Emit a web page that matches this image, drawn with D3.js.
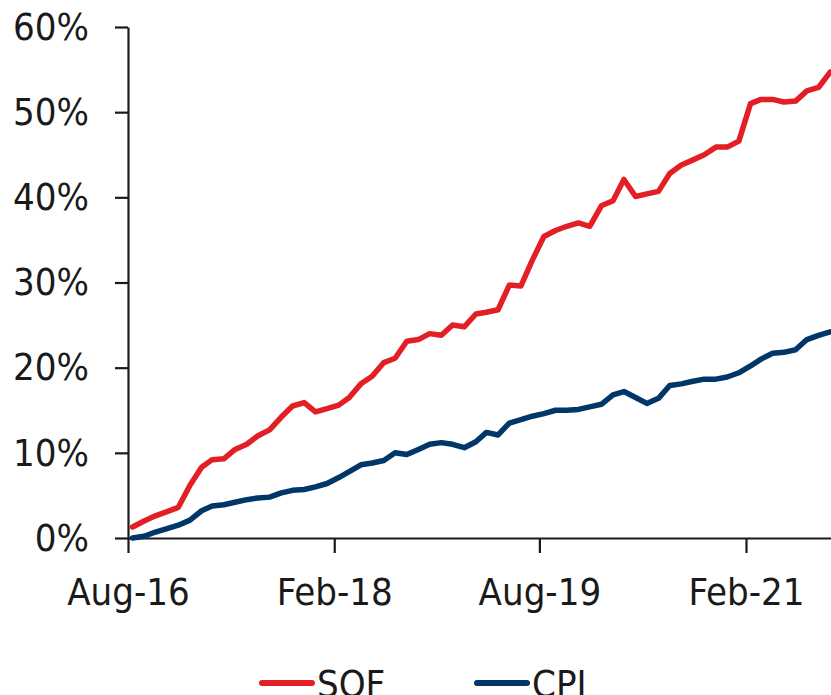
<!DOCTYPE html>
<html>
<head>
<meta charset="UTF-8">
<script src="https://d3js.org/d3.v7.min.js"></script>
<style>
  body { margin: 0; background: #fff; }
  svg { display: block; }
  text { font-family: "Liberation Sans Narrow", "Arial Narrow", "DejaVu Sans Condensed", sans-serif; fill: #1a1a1a; }
  .axis path, .axis line { stroke: #1a1a1a; stroke-width: 2.2; }
</style>
</head>
<body>
<svg id="chart" width="831" height="695"></svg>
<script>
// monthly observations, Aug-16 .. Sep-21 (cumulative % change)
var months = ["2016-08","2016-09","2016-10","2016-11","2016-12",
  "2017-01","2017-02","2017-03","2017-04","2017-05","2017-06","2017-07","2017-08","2017-09","2017-10","2017-11","2017-12",
  "2018-01","2018-02","2018-03","2018-04","2018-05","2018-06","2018-07","2018-08","2018-09","2018-10","2018-11","2018-12",
  "2019-01","2019-02","2019-03","2019-04","2019-05","2019-06","2019-07","2019-08","2019-09","2019-10","2019-11","2019-12",
  "2020-01","2020-02","2020-03","2020-04","2020-05","2020-06","2020-07","2020-08","2020-09","2020-10","2020-11","2020-12",
  "2021-01","2021-02","2021-03","2021-04","2021-05","2021-06","2021-07","2021-08","2021-09"];

var sof = [1.3, 2.0, 2.6, 3.1, 3.6, 6.2, 8.3, 9.2, 9.3, 10.4, 11.0, 12.0, 12.7, 14.2, 15.5, 15.9,
  14.8, 15.2, 15.6, 16.5, 18.1, 19.0, 20.6, 21.1, 23.1, 23.3, 24.0, 23.8, 25.0, 24.8, 26.3, 26.5,
  26.8, 29.7, 29.6, 32.6, 35.4, 36.1, 36.6, 37.0, 36.6, 39.0, 39.6, 42.1, 40.1, 40.4, 40.7, 42.8,
  43.8, 44.4, 45.0, 45.9, 45.9, 46.6, 51.0, 51.5, 51.5, 51.2, 51.3, 52.5, 52.9, 54.7];

var cpi = [0.0, 0.2, 0.7, 1.1, 1.5, 2.1, 3.2, 3.75, 3.9, 4.2, 4.5, 4.7, 4.8, 5.3, 5.6, 5.7,
  6.0, 6.4, 7.1, 7.8, 8.6, 8.8, 9.1, 10.0, 9.8, 10.4, 11.0, 11.2, 11.0, 10.6, 11.3, 12.4,
  12.1, 13.5, 13.9, 14.3, 14.6, 15.0, 15.0, 15.1, 15.4, 15.7, 16.8, 17.2, 16.5, 15.8, 16.4, 17.9,
  18.1, 18.4, 18.65, 18.65, 18.9, 19.4, 20.2, 21.0, 21.7, 21.8, 22.1, 23.3, 23.8, 24.2];

var xTicks = ["2016-08", "2018-02", "2019-08", "2021-02"];
var yTicks = [0, 10, 20, 30, 40, 50, 60];

var seriesNames = ["SOF", "CPI"];
var colors = ["#e31e25", "#003768"];

var svg = d3.select("#chart");
var width = 831, height = 695;
var margin = { left: 128, top: 27, bottom: 538 };

var parseMonth = d3.timeParse("%Y-%m");
// observations sit mid-month
var obsDate = function(m) { return d3.timeDay.offset(parseMonth(m), 12); };

var x = d3.scaleTime()
  .domain([parseMonth(xTicks[0]), parseMonth(xTicks[3])])
  .range([margin.left, 746]);
x.domain([x.domain()[0], x.invert(width)]).range([margin.left, width]);

var y = d3.scaleLinear().domain([0, 60]).range([margin.bottom, margin.top]);

var xAxis = d3.axisBottom(x)
  .tickValues(xTicks.map(parseMonth))
  .tickFormat(d3.timeFormat("%b-%y"))
  .tickSizeInner(15).tickSizeOuter(0).tickPadding(25);

var gx = svg.append("g").attr("class", "axis")
  .attr("transform", "translate(0," + margin.bottom + ")")
  .call(xAxis);
gx.selectAll("text").style("font-size", "38px");

var yAxis = d3.axisLeft(y)
  .tickValues(yTicks)
  .tickFormat(function(d) { return d + "%"; })
  .tickSizeInner(13).tickSizeOuter(0).tickPadding(26);

var gy = svg.append("g").attr("class", "axis")
  .attr("transform", "translate(" + margin.left + ",0)")
  .call(yAxis);
gy.selectAll("text").style("font-size", "38px");

var line = d3.line()
  .x(function(d, i) { return x(obsDate(months[i])); })
  .y(function(d) { return y(d); });

[sof, cpi].forEach(function(s, k) {
  svg.append("path")
    .datum(s)
    .attr("d", line)
    .attr("fill", "none")
    .attr("stroke", colors[k])
    .attr("stroke-width", 5.5)
    .attr("stroke-linejoin", "round")
    .attr("stroke-linecap", "round");
});

// legend (cut by the bottom edge, as in the source image)
var legX = [262, 477];
var leg = svg.selectAll(".leg").data(seriesNames).join("g")
  .attr("class", "leg")
  .attr("transform", function(d, i) { return "translate(" + legX[i] + ",683)"; });
leg.append("line")
  .attr("x1", 0).attr("x2", 50)
  .attr("stroke", function(d, i) { return colors[i]; })
  .attr("stroke-width", 6)
  .attr("stroke-linecap", "round");
leg.append("text")
  .attr("x", 55).attr("y", 14)
  .style("font-size", "38px")
  .text(function(d) { return d; });
</script>
</body>
</html>
